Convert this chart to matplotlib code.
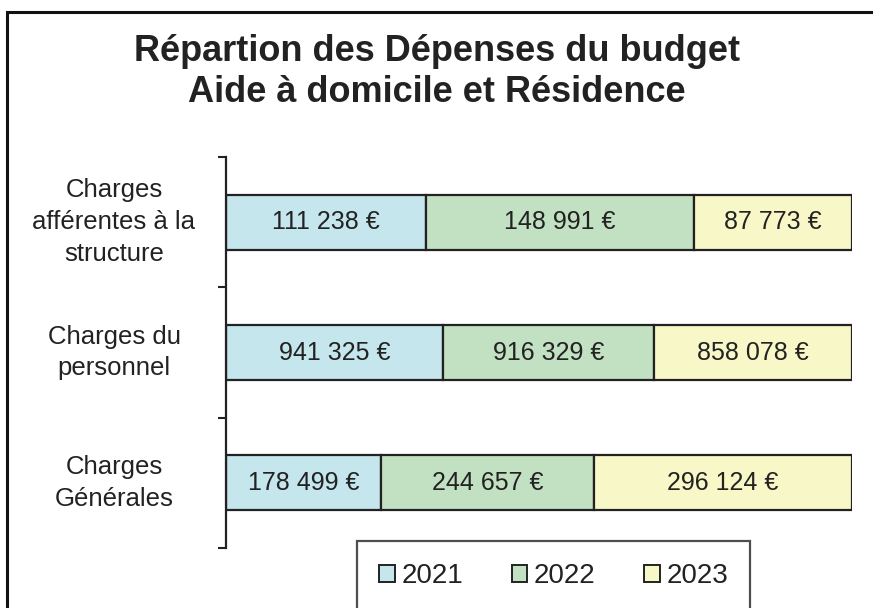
import numpy as np
import matplotlib
matplotlib.use("Agg")
from matplotlib import pyplot as plt
from matplotlib.patches import Rectangle, Patch
from matplotlib.transforms import blended_transform_factory

plt.rcParams['font.family'] = ['Liberation Sans', 'DejaVu Sans']

categories = ["Charges\nafférentes à la\nstructure", "Charges du\npersonnel", "Charges\nGénérales"]
years = ["2021", "2022", "2023"]
values_2021 = [111238, 941325, 178499]
values_2022 = [148991, 916329, 244657]
values_2023 = [87773, 858078, 296124]
colors = ["#c5e6ec", "#c2e0c2", "#f8f7c8"]
title_lines = ["Répartion des Dépenses du budget", "Aide à domicile et Résidence"]

series = np.array([values_2021, values_2022, values_2023], dtype=float)
totals = series.sum(axis=0)
shares = series / totals * 100  # 100 % stacked

W, H = 873, 608
fig = plt.figure(figsize=(W / 100, H / 100), dpi=100)
ax = fig.add_axes([226 / W, 1 - 548 / H, (852 - 226) / W, (548 - 157) / H])

ypos = np.arange(len(categories))
left = np.zeros(len(categories))
for k in range(len(years)):
    ax.barh(ypos, shares[k], left=left, height=0.42, color=colors[k],
            edgecolor="#222222", linewidth=1.6, label=years[k])
    for i in range(len(categories)):
        txt = "{:,} €".format(int(series[k, i])).replace(",", " ")
        ax.text(left[i] + shares[k, i] / 2, ypos[i], txt, ha="center", va="center",
                fontsize=18, color="#222222")
    left += shares[k]

ax.set_xlim(0, 100)
ax.set_ylim(len(categories) - 0.5, -0.5)
ax.set_xticks([])
ax.set_yticks(np.arange(len(categories) + 1) - 0.5)
ax.set_yticklabels([])
ax.tick_params(axis="y", which="major", length=6, width=1.5, color="#222222", direction="out")
for s in ["top", "right", "bottom"]:
    ax.spines[s].set_visible(False)
ax.spines["left"].set_linewidth(1.6)
ax.spines["left"].set_color("#222222")

# category labels, centred left of the axis
tr = blended_transform_factory(fig.transFigure, ax.transData)
for i, c in enumerate(categories):
    ax.text(114 / W, ypos[i], c, transform=tr, ha="center", va="center",
            multialignment="center", fontsize=18.5, color="#222222", linespacing=1.42)

# title
fig.text(437 / W, 1 - 61 / H, title_lines[0], ha="center", va="baseline",
         fontsize=26, fontweight="bold", color="#222222")
fig.text(437 / W, 1 - 102 / H, title_lines[1], ha="center", va="baseline",
         fontsize=26, fontweight="bold", color="#222222")

# outer frame (runs off the right and bottom edges)
fig.patches.append(Rectangle((7 / W, -0.2), 1.2, 0.2 + (1 - 12 / H),
                             transform=fig.transFigure, fill=False, edgecolor="#111111",
                             linewidth=2.2, clip_on=False))

handles = [Patch(facecolor=c, edgecolor="#222222", linewidth=1.4) for c in colors]
leg = fig.legend(handles, years, loc="upper left", bbox_to_anchor=(357 / W, 1 - 541 / H),
                 borderaxespad=0, ncol=3, fontsize=20, frameon=True, fancybox=False,
                 borderpad=0.8, handlelength=0.55, handleheight=0.55, handletextpad=0.25,
                 columnspacing=1.75)
leg.get_frame().set_edgecolor("#222222")
leg.get_frame().set_linewidth(1.6)
for t in leg.get_texts():
    t.set_color("#222222")

fig.savefig("out.png", dpi=100)
